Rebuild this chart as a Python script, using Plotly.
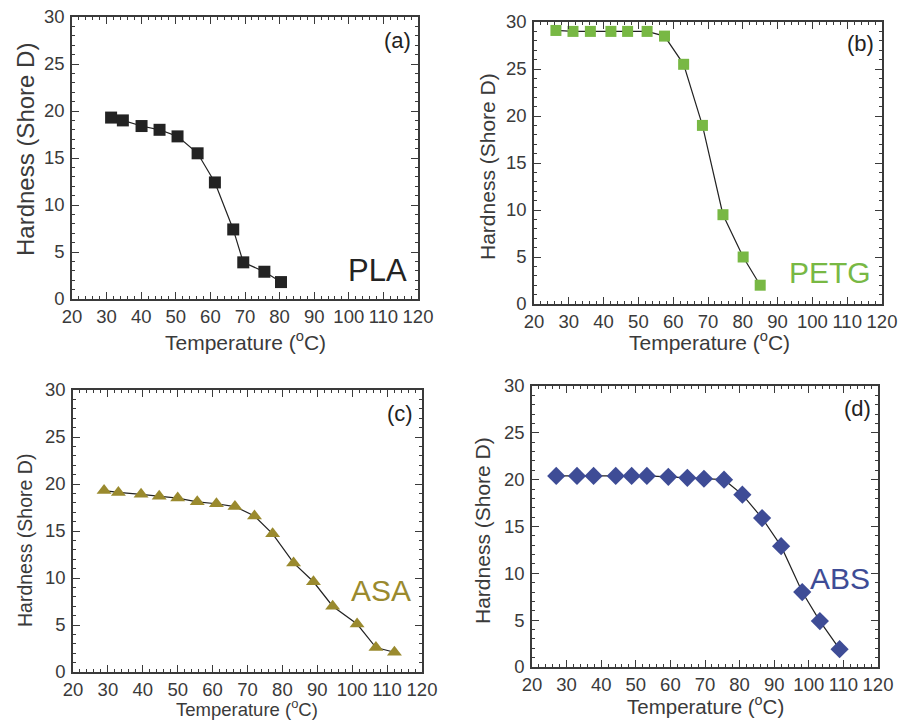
import plotly.graph_objects as go

W, H = 899, 723

# ---- data ----
pla_t = [31.3, 34.7, 40.1, 45.3, 50.5, 56.3, 61.3, 66.6, 69.5, 75.6, 80.4]
pla_h = [19.3, 19.0, 18.4, 18.0, 17.3, 15.5, 12.4, 7.4, 3.9, 2.9, 1.8]

petg_t = [26.3, 31.2, 36.2, 42.1, 46.9, 52.5, 57.5, 63.0, 68.4, 74.3, 80.1, 85.0]
petg_h = [29.1, 29.0, 29.0, 29.0, 29.0, 29.0, 28.5, 25.5, 19.0, 9.5, 5.0, 2.0]

asa_t = [28.9, 33.0, 39.5, 44.7, 50.0, 55.6, 61.1, 66.4, 72.0, 77.2, 83.2, 88.9, 94.4, 101.4, 106.8, 112.1]
asa_h = [19.3, 19.1, 18.9, 18.7, 18.5, 18.1, 17.9, 17.6, 16.6, 14.7, 11.6, 9.6, 7.0, 5.1, 2.6, 2.1]

abs_t = [27.0, 33.0, 37.8, 44.2, 48.8, 53.2, 59.4, 64.9, 69.7, 75.5, 80.8, 86.5, 92.0, 98.1, 103.2, 108.9]
abs_h = [20.4, 20.4, 20.4, 20.4, 20.4, 20.4, 20.3, 20.2, 20.1, 20.0, 18.4, 15.9, 12.9, 8.0, 4.9, 1.9]

x_ticks = [20, 30, 40, 50, 60, 70, 80, 90, 100, 110, 120]
y_ticks = [0, 5, 10, 15, 20, 25, 30]

x_title = "Temperature (<sup>o</sup>C)"
y_title = "Hardness (Shore D)"

FONT = "Liberation Sans, Arial, sans-serif"
TXT = "#3a3a3a"

panels = [
    dict(t=pla_t, h=pla_h, col="#232323", sym="square", sz=12, name="PLA", letter="(a)",
         box=(72, 418, 17, 299), lab=(409, 270, 31), let=(397, 40),
         xt=(245, 341, 21), yt=(25, 150, 24)),
    dict(t=petg_t, h=petg_h, col="#78b844", sym="square", sz=11, name="PETG", letter="(b)",
         box=(534, 882, 22, 304), lab=(873, 272, 30), let=(860, 43),
         xt=(709, 341, 21), yt=(487, 167, 21)),
    dict(t=asa_t, h=asa_h, col="#9a8a2e", sym="triangle-up", sz=13, name="ASA", letter="(c)",
         box=(73, 422, 390, 672), lab=(413, 590, 30), let=(400, 413),
         xt=(247, 708, 18.5), yt=(25, 541, 19.5)),
    dict(t=abs_t, h=abs_h, col="#3e4c96", sym="diamond", sz=14, name="ABS", letter="(d)",
         box=(532, 878, 386, 667), lab=(872, 578, 30), let=(857, 408),
         xt=(705, 705, 20.5), yt=(482, 531, 21)),
]

def px(x):
    return x / W

def py(y):
    return 1 - y / H

fig = go.Figure()
annotations = []
for i, p in enumerate(panels):
    n = "" if i == 0 else str(i + 1)
    xa, ya = "x" + n, "y" + n
    l, r, top, bot = p["box"]
    fig.add_trace(go.Scatter(
        x=p["t"], y=p["h"], xaxis=xa, yaxis=ya, mode="lines+markers",
        line=dict(color="#222222", width=1.2),
        marker=dict(symbol=p["sym"], size=p["sz"], color=p["col"], line=dict(width=0)),
        showlegend=False,
    ))
    axcommon = dict(
        showline=True, linecolor="#3a3a3a", linewidth=1.5, mirror="allticks",
        ticks="inside", ticklen=7, tickwidth=1.2, tickcolor="#3a3a3a",
        showgrid=False, zeroline=False, automargin=False, tickangle=0,
        tickfont=dict(family=FONT, size=18.5, color=TXT),
    )
    fig.update_layout({
        "xaxis" + n: dict(
            axcommon, domain=[px(l), px(r)], anchor=ya, range=[20, 120],
            tickvals=x_ticks, ticktext=[str(v) for v in x_ticks],
            minor=dict(ticks="inside", ticklen=3, tickwidth=1, tickcolor="#3a3a3a", dtick=2, tick0=20),
        ),
        "yaxis" + n: dict(
            axcommon, domain=[py(bot), py(top)], anchor=xa, range=[0, 30],
            tickvals=y_ticks, ticktext=[str(v) for v in y_ticks], ticklabelstandoff=2,
            minor=dict(ticks="inside", ticklen=3, tickwidth=1, tickcolor="#3a3a3a", dtick=1, tick0=0),
        ),
    })
    annotations.append(dict(
        x=px(p["lab"][0]), y=py(p["lab"][1]), xref="paper", yref="paper", xanchor="right", yanchor="middle",
        text=p["name"], showarrow=False, font=dict(family=FONT, size=p["lab"][2], color=p["col"]),
    ))
    annotations.append(dict(
        x=px(p["let"][0]), y=py(p["let"][1]), xref="paper", yref="paper", xanchor="center", yanchor="middle",
        text=p["letter"], showarrow=False, font=dict(family=FONT, size=22, color="#222222"),
    ))
    annotations.append(dict(
        x=px(p["xt"][0]), y=py(p["xt"][1]), xref="paper", yref="paper", xanchor="center", yanchor="middle",
        text=x_title, showarrow=False, font=dict(family=FONT, size=p["xt"][2], color=TXT),
    ))
    annotations.append(dict(
        x=px(p["yt"][0]), y=py(p["yt"][1]), xref="paper", yref="paper", xanchor="center", yanchor="middle",
        text=y_title, textangle=-90, showarrow=False, font=dict(family=FONT, size=p["yt"][2], color=TXT),
    ))

fig.update_layout(
    width=W, height=H, margin=dict(l=0, r=0, t=0, b=0),
    paper_bgcolor="white", plot_bgcolor="white",
    annotations=annotations,
    font=dict(family=FONT, color=TXT),
)

fig.write_html(
    "out.html",
    config={"displayModeBar": False},
    post_script="document.body.style.margin='0';document.body.style.padding='0';",
)
